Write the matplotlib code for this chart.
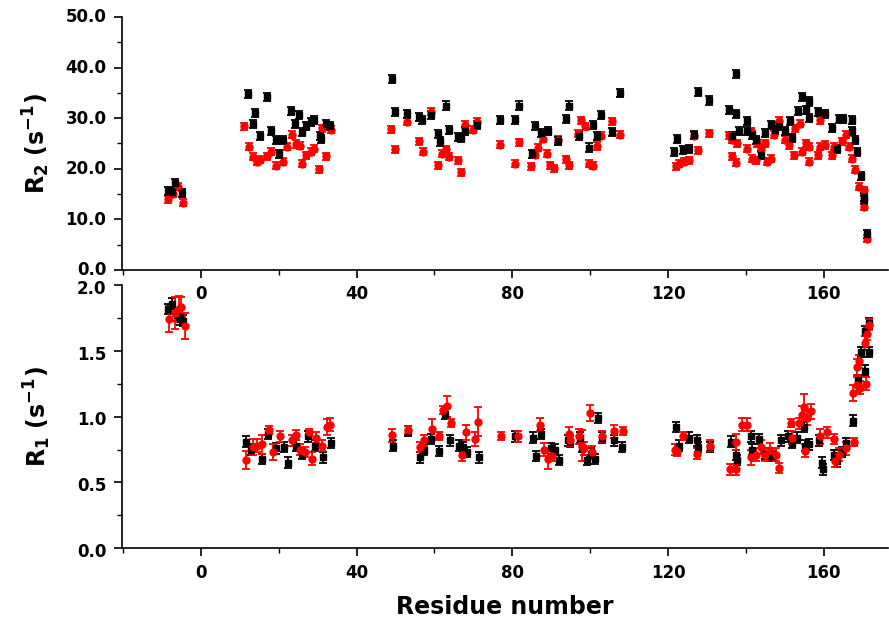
import matplotlib.pyplot as plt
import matplotlib.transforms as mtransforms
from matplotlib.ticker import MultipleLocator, FormatStrFormatter

plt.rcParams['font.family'] = ['DejaVu Sans']
plt.rcParams['font.weight'] = 'bold'

# R2 data (residue, value)
r2_black_res = [-8.4, -7.5, -6.7, -4.8, 12.1, 13.3, 14.0, 15.1, 17.1, 18.1, 19.2, 20.1, 21.1, 23.1, 24.3,
                25.1, 26.1, 27.1, 28.2, 29.1, 30.5, 30.9, 32.2, 33.1, 49.1, 49.9, 52.9, 56.0, 56.8, 59.0,
                61.0, 61.5, 63.0, 63.8, 66.0, 66.8, 67.9, 70.9, 76.8, 80.7, 81.8, 85.0, 85.8, 87.4, 89.2,
                91.6, 93.8, 94.6, 97.2, 99.7, 100.6, 101.7, 102.7, 105.6, 107.7, 121.5, 122.4, 123.7,
                125.4, 126.7, 127.7, 130.5, 135.6, 136.5, 137.4, 137.4, 138.2, 140.3, 140.3, 141.6,
                142.5, 143.8, 145.0, 146.3, 147.4, 148.5, 149.9, 151.3, 151.9, 153.3, 154.3, 155.3,
                156.2, 156.3, 158.5, 160.4, 162.1, 163.4, 163.8, 164.9, 167.1, 167.3, 168.1, 168.5,
                169.6, 170.3, 170.3, 171.1]
r2_black = [15.6, 15.5, 17.1, 15.3, 34.7, 28.9, 31.1, 26.4, 34.1, 27.5, 25.7, 23.0, 25.7, 31.4, 28.9,
            30.6, 27.2, 28.4, 29.3, 29.6, 26.4, 25.8, 28.9, 28.5, 37.7, 31.3, 30.9, 30.3, 29.6, 30.7,
            26.9, 25.4, 32.5, 27.7, 26.2, 26.0, 27.4, 28.7, 29.6, 29.6, 32.5, 23.0, 28.4, 27.0, 27.4,
            25.5, 29.9, 32.5, 26.4, 24.2, 28.6, 26.5, 30.7, 27.2, 34.9, 23.4, 25.8, 23.7,
            24.0, 26.6, 35.1, 33.5, 31.7, 26.4, 38.8, 30.8, 27.4, 29.5, 27.4, 26.7,
            25.7, 22.7, 27.0, 28.7, 27.6, 28.5, 27.4, 29.4, 26.0, 31.4, 34.1, 31.6,
            30.1, 33.3, 31.3, 30.8, 28.0, 24.0, 29.9, 29.8, 27.4, 29.6, 25.7, 23.4,
            18.5, 14.5, 13.8, 7.2]
r2_black_err = 0.8

r2_red_res = [-8.4, -7.1, -5.8, -4.7, 11.0, 12.3, 13.3, 14.3, 15.1, 17.1, 18.1, 19.4, 21.1, 22.0, 23.3,
              24.4, 25.4, 26.1, 27.1, 28.2, 29.1, 30.3, 31.2, 32.1, 33.3, 48.9, 49.9, 52.9, 56.0, 57.0,
              59.0, 61.0, 61.9, 63.0, 63.8, 66.0, 66.8, 67.9, 69.8, 70.9, 76.8, 80.7, 81.8, 84.8, 85.8,
              86.7, 87.8, 88.9, 89.7, 90.8, 91.6, 93.8, 94.6, 96.8, 97.6, 98.7, 99.7, 100.6, 101.7,
              102.7, 105.6, 107.7, 122.0, 122.8, 124.1, 125.4, 126.7, 127.7, 130.5, 135.6, 136.5,
              136.5, 137.4, 137.8, 140.3, 141.2, 141.6, 142.5, 142.9, 143.8, 145.0, 145.5, 146.3,
              147.2, 148.5, 149.9, 151.0, 152.3, 152.7, 154.0, 154.4, 155.3, 156.2, 156.2, 158.5,
              159.1, 159.1, 160.4, 162.1, 162.6, 164.7, 165.6, 166.4, 167.3, 168.1, 169.0, 170.3,
              170.3, 171.1]
r2_red = [14.0, 15.1, 16.5, 13.3, 28.4, 24.4, 22.4, 21.4, 21.8, 22.5, 23.4, 20.6, 21.4, 24.4, 26.7,
          24.9, 24.6, 21.0, 22.7, 23.4, 24.0, 19.9, 28.0, 22.5, 27.7, 27.8, 23.9, 29.3, 25.4, 23.4,
          31.3, 20.7, 23.0, 23.9, 22.4, 21.7, 19.3, 28.7, 27.7, 29.3, 24.8, 21.0, 25.2, 20.5, 22.8,
          24.2, 25.9, 23.0, 20.7, 20.1, 25.7, 21.9, 20.7, 26.9, 29.6, 28.4, 21.0, 20.6, 24.5,
          26.5, 29.4, 26.7, 20.5, 21.0, 21.4, 21.7, 26.5, 23.7, 27.0, 26.6, 25.7,
          22.5, 21.2, 25.0, 24.0, 27.4, 22.0, 21.7, 25.0, 24.0, 25.0, 21.4, 22.0,
          26.7, 29.5, 25.7, 24.7, 22.7, 28.0, 28.9, 23.4, 25.0, 21.4, 24.4, 22.7,
          24.4, 29.6, 24.7, 22.7, 24.4, 25.4, 26.7, 24.4, 22.0, 19.8, 16.5, 15.8,
          12.5, 6.2]
r2_red_err = 0.7

# R1 data
r1_black_res = [-8.4, -7.5, -6.2, -5.4, -4.5, 11.5, 13.0, 15.6, 17.3, 19.2, 21.4, 22.4, 24.5, 26.1, 27.5,
                29.2, 31.4, 33.3, 49.3, 53.3, 56.2, 57.3, 59.0, 61.1, 62.8, 64.1, 66.2, 67.2, 68.3, 71.4,
                80.7, 85.2, 86.1, 87.4, 89.9, 91.0, 92.1, 94.4, 94.9, 97.4, 97.9, 99.1, 100.2, 101.3,
                102.1, 102.9, 106.0, 108.1, 122.0, 122.8, 125.4, 127.5, 127.6, 130.7, 136.1, 137.4,
                137.6, 141.2, 141.6, 143.3, 145.0, 146.8, 148.9, 150.9, 151.9, 153.2, 154.9, 155.2,
                156.2, 158.7, 159.4, 159.8, 162.6, 163.4, 164.6, 165.6, 167.5, 168.8, 169.6, 170.5,
                170.5, 171.5, 171.5]
r1_black = [1.82, 1.86, 1.77, 1.74, 1.73, 0.81, 0.75, 0.68, 0.87, 0.76, 0.77, 0.65, 0.78, 0.72, 0.85,
            0.78, 0.69, 0.80, 0.78, 0.89, 0.69, 0.75, 0.83, 0.74, 1.02, 0.82, 0.78, 0.77, 0.73, 0.69,
            0.85, 0.84, 0.70, 0.87, 0.76, 0.75, 0.67, 0.82, 0.81, 0.84, 0.77, 0.67, 0.72, 0.68,
            0.99, 0.84, 0.82, 0.77, 0.92, 0.78, 0.84, 0.82, 0.77, 0.77, 0.81, 0.71,
            0.67, 0.85, 0.75, 0.83, 0.72, 0.70, 0.82, 0.85, 0.80, 0.84, 0.92, 0.78,
            0.79, 0.82, 0.65, 0.60, 0.71, 0.66, 0.73, 0.80, 0.97, 1.28, 1.49, 1.35,
            1.65, 1.49, 1.71]
r1_black_err = 0.04

r1_red_res = [-8.1, -6.7, -5.6, -5.1, -4.1, 11.7, 13.4, 14.4, 15.6, 17.5, 18.5, 20.3, 23.3, 24.4, 25.4,
              26.7, 27.8, 28.6, 29.7, 31.0, 32.4, 33.1, 49.2, 53.3, 56.2, 57.3, 59.3, 61.1, 62.3, 63.2,
              64.3, 67.1, 68.1, 70.3, 71.1, 77.1, 81.4, 87.2, 88.1, 89.1, 90.2, 94.6, 94.9, 97.0, 98.0,
              98.5, 99.9, 100.5, 103.0, 106.0, 108.3, 121.8, 122.3, 123.7, 127.5, 130.7, 135.8, 137.4,
              137.4, 138.9, 140.3, 141.2, 142.5, 143.8, 145.0, 146.1, 147.6, 148.5, 151.5, 151.9,
              153.6, 154.3, 154.9, 155.7, 156.6, 155.2, 158.9, 160.9, 162.6, 162.9, 163.8, 165.6,
              167.7, 167.5, 168.4, 168.5, 169.1, 169.4, 170.5, 170.7, 171.1, 171.7]
r1_red = [1.74, 1.79, 1.82, 1.83, 1.69, 0.67, 0.77, 0.78, 0.79, 0.90, 0.73, 0.85, 0.82, 0.86, 0.75,
          0.73, 0.88, 0.68, 0.84, 0.78, 0.92, 0.94, 0.86, 0.90, 0.77, 0.82, 0.91, 0.85, 1.05, 1.08,
          0.95, 0.71, 0.88, 0.83, 0.96, 0.85, 0.85, 0.94, 0.75, 0.68, 0.70, 0.87, 0.82, 0.85, 0.78,
          0.76, 1.03, 0.73, 0.85, 0.89, 0.89, 0.75, 0.73, 0.85, 0.72, 0.78, 0.60, 0.60,
          0.81, 0.94, 0.94, 0.69, 0.71, 0.77, 0.71, 0.75, 0.71, 0.61, 0.95, 0.84,
          0.95, 1.01, 1.07, 0.99, 1.04, 0.74, 0.85, 0.88, 0.83, 0.66, 0.71, 0.76,
          0.81, 1.18, 1.24, 1.38, 1.42, 1.22, 1.56, 1.25, 1.63, 1.70]
r1_red_err = [0.10, 0.12, 0.10, 0.08, 0.10, 0.07, 0.06, 0.05, 0.07, 0.03, 0.06, 0.04, 0.04, 0.04, 0.04,
              0.04, 0.03, 0.05, 0.04, 0.04, 0.06, 0.05, 0.05, 0.03, 0.04, 0.04, 0.07, 0.03, 0.03, 0.08,
              0.03, 0.05, 0.06, 0.05, 0.11, 0.03, 0.04, 0.05, 0.05, 0.08, 0.04, 0.05, 0.04, 0.06, 0.12,
              0.05, 0.06, 0.05, 0.04, 0.05, 0.03, 0.04, 0.03, 0.03, 0.04, 0.04, 0.04, 0.04,
              0.06, 0.05, 0.05, 0.06, 0.05, 0.05, 0.05, 0.05, 0.05, 0.04, 0.03, 0.05,
              0.04, 0.07, 0.10, 0.05, 0.06, 0.05, 0.06, 0.04, 0.04, 0.04, 0.05, 0.05,
              0.03, 0.06, 0.06, 0.06, 0.05, 0.05, 0.05, 0.05, 0.05, 0.04]

fig = plt.figure(figsize=(8.89, 6.28), dpi=100)
ax1 = fig.add_axes([0.137, 0.570, 0.862, 0.403])
ax2 = fig.add_axes([0.137, 0.127, 0.862, 0.419])

eb = dict(linestyle='none', capsize=3, elinewidth=1.3, capthick=1.3, markersize=5)

ax1.errorbar(r2_red_res, r2_red, yerr=r2_red_err, fmt='o', color='red', **eb)
ax1.errorbar(r2_black_res, r2_black, yerr=r2_black_err, fmt='s', color='black', **eb)
ax2.errorbar(r1_black_res, r1_black, yerr=r1_black_err, fmt='s', color='black', **eb)
ax2.errorbar(r1_red_res, r1_red, yerr=r1_red_err, fmt='o', color='red', **eb)

for ax in (ax1, ax2):
    ax.patch.set_alpha(0)
    ax.set_xlim(-20.3, 176.5)
    ax.spines['top'].set_visible(False)
    ax.spines['right'].set_visible(False)
    ax.spines['left'].set_linewidth(1.2)
    ax.spines['bottom'].set_linewidth(1.2)
    ax.xaxis.set_major_locator(MultipleLocator(40))
    ax.xaxis.set_minor_locator(MultipleLocator(20))
    ax.tick_params(which='major', direction='out', length=6, width=1.2, labelsize=12, pad=5)
    ax.tick_params(which='minor', direction='out', length=3.5, width=1.0)

ax1.set_ylim(0, 50)
ax1.yaxis.set_major_locator(MultipleLocator(10))
ax1.yaxis.set_minor_locator(MultipleLocator(5))
ax1.yaxis.set_major_formatter(FormatStrFormatter('%.1f'))
ax1.set_ylabel(r'$\mathbf{R_2\ (s^{-1})}$', fontsize=17, labelpad=10)

ax2.set_ylim(0, 2.0)
ax2.yaxis.set_major_locator(MultipleLocator(0.5))
ax2.yaxis.set_minor_locator(MultipleLocator(0.25))
ax2.yaxis.set_major_formatter(FormatStrFormatter('%.1f'))
ax2.set_ylabel(r'$\mathbf{R_1\ (s^{-1})}$', fontsize=17, labelpad=17)
ax2.set_xlabel('Residue number', fontsize=17, fontweight='bold', labelpad=10)

# nudge the y labels apart a little where the two panels meet
up = mtransforms.ScaledTranslation(0, 1.2 / 72, fig.dpi_scale_trans)
down = mtransforms.ScaledTranslation(0, -1.2 / 72, fig.dpi_scale_trans)
for lab in ax1.get_yticklabels():
    lab.set_transform(lab.get_transform() + up)
for lab in ax2.get_yticklabels():
    lab.set_transform(lab.get_transform() + down)

for ax in (ax1, ax2):
    for lab in ax.get_xticklabels() + ax.get_yticklabels():
        lab.set_fontweight('bold')

fig.savefig('out.png', dpi=100)
